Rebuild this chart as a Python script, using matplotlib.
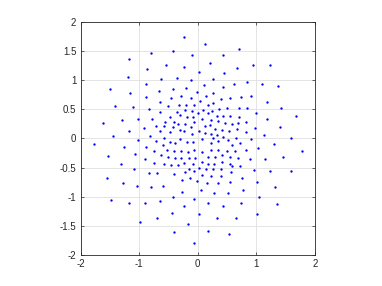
import matplotlib
matplotlib.use("Agg")
import matplotlib.pyplot as plt

# ── point positions (data units) ─────────────────────────────────
# upper-left outer ring
x_ul = [-0.24, -0.79, -0.42, -0.09, -1.17, -0.54, -0.24, -0.86, -1.19, -0.62,
        -0.35, -0.11, -1.50, -1.16, -1.41, -1.10, -1.62, -1.30, -1.02, -1.17, -1.44]
y_ul = [1.73, 1.47, 1.49, 1.43, 1.36, 1.25, 1.23, 1.19, 1.06, 1.01,
        1.03, 1.00, 0.84, 0.78, 0.56, 0.54, 0.26, 0.32, 0.34, 0.13, 0.04]

# upper-right outer ring
x_ur = [0.13, 0.70, 0.43, 0.21, 0.94, 1.24, 0.03, 0.45, 0.67, 0.26,
        1.10, 1.38, 1.18, 1.43, 0.99, 1.68, 1.19, 1.40, 0.98, 1.14, 1.60]
y_ur = [1.61, 1.54, 1.43, 1.30, 1.25, 1.26, 1.14, 1.12, 1.20, 1.02,
        0.94, 0.89, 0.63, 0.53, 0.43, 0.38, 0.34, 0.19, 0.18, 0.06, 0.01]

# inner upper-left
x_il = [-0.89, -0.43, -0.20, -0.01, -0.66, -0.88, -0.46, -0.28, -0.11, -0.65,
        -0.32, -0.20, -0.06, -0.50, -0.84, -0.64, -0.35, -0.22, -0.10, -0.78,
        -0.48, -0.31, -0.18, -0.08, -0.56, -0.41, -0.22, -0.07, -0.72, -0.57,
        -0.42, -0.34, -0.11, -0.91, -0.64, -0.47, -0.31, -0.23, -0.82, -0.58, -0.10]
y_il = [0.93, 0.85, 0.86, 0.80, 0.81, 0.71, 0.69, 0.72, 0.69, 0.62,
        0.58, 0.57, 0.58, 0.56, 0.51, 0.46, 0.46, 0.48, 0.47, 0.34,
        0.37, 0.40, 0.36, 0.37, 0.29, 0.29, 0.25, 0.29, 0.21, 0.21,
        0.20, 0.24, 0.19, 0.18, 0.12, 0.11, 0.15, 0.12, 0.05, 0.01, 0.08]

# inner upper-right
x_ir = [0.10, 0.43, 0.62, 0.85, 0.15, 0.27, 0.55, 0.74, 0.91, 0.04,
        0.40, 0.17, 0.26, 0.37, 0.50, 0.70, 0.85, 0.01, 0.09, 0.18,
        0.25, 0.33, 0.43, 0.55, 0.71, 0.07, 0.22, 0.35, 0.46, 0.58,
        0.69, 0.82, 0.13, 0.21, 0.30, 0.42, 0.54, 0.67, 0.02, 0.12,
        0.23, 0.33, 0.82, 0.26]
y_ir = [0.92, 0.88, 0.93, 0.96, 0.73, 0.77, 0.70, 0.71, 0.72, 0.65,
        0.67, 0.58, 0.60, 0.51, 0.52, 0.53, 0.52, 0.43, 0.49, 0.43,
        0.47, 0.39, 0.38, 0.38, 0.37, 0.34, 0.32, 0.30, 0.26, 0.24,
        0.27, 0.28, 0.22, 0.23, 0.16, 0.15, 0.12, 0.16, 0.13, 0.09,
        0.08, 0.06, 0.11, 0.00]

# inner lower-left
x_ll = [-0.71, -0.48, -0.39, -0.30, -0.18, -0.08, -0.88, -0.74, -0.60, -0.52,
        -0.41, -0.28, -0.17, -0.06, -0.90, -0.62, -0.50, -0.39, -0.28, -0.15,
        -0.04, -0.74, -0.58, -0.46, -0.33, -0.24, -0.08, -0.14, -0.84, -0.69,
        -0.40, -0.21, -0.06, -0.27, -0.13, -0.01, -0.79, -0.59, -0.26]
y_ll = [-0.05, -0.06, -0.08, -0.01, -0.06, -0.06, -0.14, -0.22, -0.12, -0.20,
        -0.21, -0.21, -0.23, -0.20, -0.36, -0.28, -0.32, -0.33, -0.34, -0.34,
        -0.34, -0.42, -0.43, -0.45, -0.45, -0.42, -0.44, -0.52, -0.60, -0.60,
        -0.61, -0.58, -0.56, -0.71, -0.68, -0.73, -0.83, -0.82, -0.91]

# inner lower-right
x_lr = [0.07, 0.22, 0.34, 0.43, 0.51, 0.58, 0.65, 0.73, 0.91, 0.08,
        0.23, 0.35, 0.50, 0.64, 0.82, 0.18, 0.30, 0.41, 0.55, 0.69,
        0.90, 0.07, 0.17, 0.28, 0.42, 0.55, 0.73, 0.02, 0.14, 0.26,
        0.40, 0.58, 0.08, 0.23, 0.39, 0.57, 0.76, 0.16, 0.35, 0.55,
        0.77, 0.06, 0.28, 0.51, 0.97]
y_lr = [-0.01, -0.08, -0.05, 0.03, -0.03, -0.11, 0.01, -0.07, -0.01, -0.24,
        -0.20, -0.19, -0.22, -0.22, -0.20, -0.32, -0.32, -0.29, -0.32, -0.34,
        -0.35, -0.40, -0.43, -0.43, -0.40, -0.44, -0.48, -0.51, -0.53, -0.53,
        -0.53, -0.47, -0.63, -0.65, -0.64, -0.58, -0.67, -0.77, -0.77, -0.75,
        -0.88, -0.89, -0.94, -0.93, -0.54]

# lower-left outer ring
x_bl = [-1.77, -1.26, -1.02, -1.54, -1.07, -1.31, -1.55, -1.09, -1.28, -1.03,
        -1.48, -1.18, -0.90, -0.65, -0.43, -0.07, -0.99, -0.69, -0.44, -0.23,
        -0.17, -0.41, -0.06]
y_bl = [-0.09, -0.14, -0.03, -0.30, -0.27, -0.44, -0.67, -0.53, -0.77, -0.82,
        -1.06, -1.11, -1.11, -1.07, -1.00, -1.03, -1.44, -1.37, -1.28, -1.16,
        -1.46, -1.61, -1.79]

# lower-right outer ring
x_br = [1.30, 1.03, 1.79, 1.15, 1.46, 1.24, 1.59, 1.01, 1.32, 1.04,
        1.36, 1.01, 0.17, 0.44, 0.74, 0.02, 0.33, 0.66, 0.17, 0.53]
y_br = [-0.09, -0.16, -0.22, -0.35, -0.31, -0.56, -0.56, -0.75, -0.83, -1.01,
        -1.12, -1.29, -1.11, -1.15, -1.11, -1.29, -1.36, -1.36, -1.58, -1.63]

xs = x_ul + x_ur + x_il + x_ir + x_ll + x_lr + x_bl + x_br
ys = y_ul + y_ur + y_il + y_ir + y_ll + y_lr + y_bl + y_br

x_ticks = [-2, -1, 0, 1, 2]
y_ticks = [-2, -1.5, -1, -0.5, 0, 0.5, 1, 1.5, 2]

plt.rcParams["font.family"] = ["Liberation Sans", "DejaVu Sans"]

fig = plt.figure(figsize=(3.82, 2.86), dpi=100)
ax = fig.add_axes([0.211, 0.108, 0.613, 0.816])

ax.plot(xs, ys, "o", color="#0000ff", ms=1.7, mew=0)

ax.set_xlim(-2, 2)
ax.set_ylim(-2, 2)
ax.set_xticks(x_ticks)
ax.set_yticks(y_ticks)
ax.set_xticklabels([f"{t:g}" for t in x_ticks])
ax.set_yticklabels([f"{t:g}" for t in y_ticks])

ax.grid(True, color="#dfdfdf", linewidth=0.6)
ax.set_axisbelow(True)
ax.tick_params(direction="in", length=2.5, width=0.5, top=True, right=True,
               labelsize=7, colors="#262626", pad=3)
for sp in ax.spines.values():
    sp.set_linewidth(0.6)
    sp.set_color("#262626")

fig.savefig("out.png", dpi=100)
